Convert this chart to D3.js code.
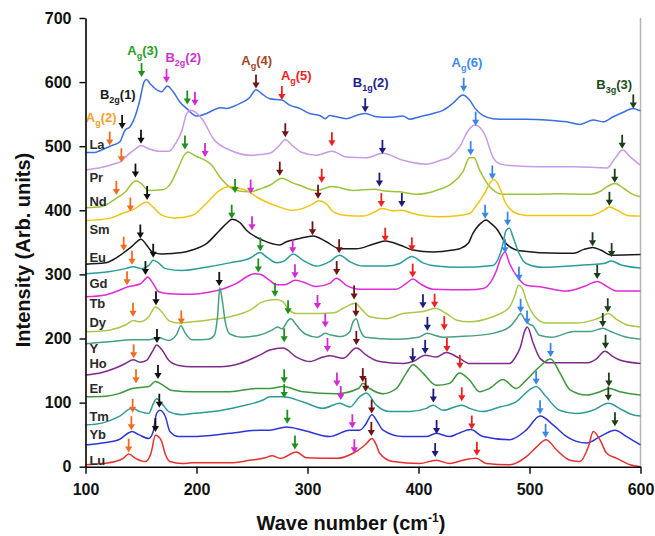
<!DOCTYPE html>
<html><head><meta charset="utf-8">
<script src="https://cdn.jsdelivr.net/npm/d3@7"></script>
<style>body{margin:0;background:#fff;} svg{display:block;font-family:"Liberation Sans",Arial,sans-serif;}</style>
</head><body><svg id="chart" width="655" height="536"></svg>
<script>
// ---------- data ----------
const xTicks = [100, 200, 300, 400, 500, 600];
const yTicks = [0, 100, 200, 300, 400, 500, 600, 700];
const xTitle = "Wave number (cm";
const yTitle = "Intensity (Arb. units)";

const elementNames = ["La","Pr","Nd","Sm","Eu","Gd","Tb","Dy","Y","Ho","Er","Tm","Yb","Lu"];
const elementLabelY = [503, 452, 414, 370, 326, 286, 255, 225, 185, 161, 122, 78, 50, 10];
const elementLabelX = 103.5;

const curveColors = ["#3b6ee0","#c89be6","#9cc43a","#f2c411","#1a1a1a","#2a9d9a","#e02ad8",
                     "#a9c84a","#45a082","#7e2a8a","#3d963d","#2e9a96","#2b35d8","#e8302f"];

const spec1 = [[100,490],[108,490],[113,493],[122,500],[131,507],[135.6,525],[140,530],[144.6,546],[149,572],[152.7,600],[155,604],[158,598],[162.6,590],[168.6,585],[173.7,594],[179,585],[185,569],[191,559],[200,547],[209,551],[215,556],[221,560],[227,559],[236,564],[242,569],[248,576],[253.6,588],[258.7,582],[266,574],[277,572],[284,564],[293,559],[302,551],[311,548],[316,543],[320,548],[326,546],[335,543],[344,548],[352,551],[362,546],[374,545],[386,547],[392,542],[401,546],[413,551],[422,556],[431,567],[440,580],[446,572],[451,559],[458,548],[467,543],[479,542],[497,542],[515,541],[533.5,538],[545.5,534],[557.5,541],[566.5,538],[575.5,546],[584.5,553],[593,559],[600,555]];
const spec2 = [[100,463],[115,467],[127,473],[132,476],[136,483],[145,496],[150,501],[157,496],[166,492],[175,492],[181,504],[187,525],[191,550],[195,556],[199,553],[206,540],[215,512],[230,494],[248,486],[266,489],[274,500],[280,510],[287,500],[294,491],[308,486],[322,492],[335,483],[353,482],[368,489],[386,478],[407,472],[420,478],[428,483],[437,499],[445,525],[451,533],[456,528],[460,517],[467,483],[474,472],[482,470],[512,468],[540,468],[570,466],[577,481],[584,494],[591,483],[600,470]];
const spec3 = [[100,404],[115,406],[127,418],[136,429],[142,442],[145,446],[150,442],[157,431],[169,432],[176,440],[184,468],[189,486],[192,491],[200,484],[208,478],[214,470],[221,452],[236,431],[248,429],[260,435],[266,439],[277,450],[285,444],[293,439],[308,431],[322,437],[341,431],[360,433],[370,430],[383,429],[398,425],[416,431],[430,442],[440,460],[446,482],[450,482],[455,463],[464,437],[476,425],[500,425],[527,426],[555,425],[563,429],[570,437],[577,442],[585,434],[594,424],[600,421]];
const spec4 = [[100,384],[121,387],[133,395],[145,403],[151,410],[155,413],[161,405],[169,392],[180,388],[196,392],[209,411],[220,430],[230,437],[237,435],[245,431],[255,420],[263,413],[275,405],[286,400],[296,403],[305,410],[310,415],[317,410],[323,398],[335,392],[350,391],[360,397],[367,403],[377,399],[385,400],[395,395],[418,390],[437,392],[446,395],[452,407],[460,428],[465,444],[468,448],[473,436],[478,413],[486,397],[497,392],[531,392],[555,392],[567,400],[572,405],[579,400],[588,392],[600,391]];
const spec5 = [[100,316],[118,318],[127,325],[136,336],[142,344],[150,355],[155,346],[161,334],[169,332],[187,334],[196,338],[209,348],[221,369],[228,381],[232,386],[239,381],[245,369],[260,353],[275,346],[281,351],[293,356],[305,360],[317,351],[329,340],[344,340],[359,347],[370,352],[383,346],[395,338],[413,335],[431,338],[437,340],[445,349],[449,364],[455,378],[461,385],[465,380],[470,372],[479,348],[491,337],[527,333],[540,333],[549,339],[557,342],[564,338],[574,330],[600,331]];
const spec6 = [[100,301],[121,304],[136,309],[143,312],[151,309],[157,314],[161,322],[165,319],[172,309],[187,306],[211,312],[230,318],[249,326],[257,334],[264,326],[272,318],[280,322],[287,332],[296,322],[308,313],[320,320],[329,330],[338,320],[350,313],[371,313],[383,317],[394,328],[404,318],[416,313],[437,311],[467,314],[475,340],[479,369],[482,372],[485,359],[490,335],[497,317],[512,311],[552,315],[567,317],[574,321],[582,315],[600,310]];
const spec7 = [[100,265],[118,268],[130,275],[139,281],[149,285],[154,293],[156,296],[160,288],[166,273],[175,270],[196,269],[211,272],[225,278],[236,286],[245,296],[252,301],[258,300],[265,292],[272,284],[280,284],[289,291],[296,288],[308,281],[320,286],[326,294],[335,283],[347,277],[380,277],[389,286],[395,293],[401,286],[413,277],[446,276],[458,278],[465,288],[470,305],[474,325],[478,335],[482,317],[490,294],[497,283],[512,280],[533,274],[549,281],[561,289],[570,281],[579,274],[600,274]];
const spec8 = [[100,210.5],[121,213],[136,221],[143,228],[149,226],[157,234],[163,249],[169,241],[175,228],[184,224],[196,226],[211,229],[230,234],[249,245],[258,256],[266,260],[272,261],[278,257],[283,245],[290,239],[300,239],[311,239],[324,240],[333,248],[343,255],[349,245],[356,234],[371,231],[386,239],[404,242],[410,245],[415,247],[425,239],[434,229],[446,226],[467,234],[475,240],[482,249],[487,268],[490,283],[494,276],[497,260],[505,234],[515,224],[542,224],[558,229],[565,234],[571,239],[579,229],[588,221],[600,218]];
const spec9 = [[100,192],[121,195],[142,198],[157,198],[166,201],[175,197],[182,206],[186,220],[190,208],[196,198],[211,199],[216,205],[219,235],[221,279],[223,262],[226,225],[230,207],[241,202],[256,205],[268,213],[273,218],[277,215],[283,229],[285,231],[290,221],[298,207],[309,202],[316,208],[320,206],[330,203],[338,210],[341,226],[344,231],[347,215],[352,202],[380,199],[400,202],[408,208],[413,206],[422,202],[437,203],[467,208],[482,218],[488,230],[492,239],[496,229],[500,222],[503,220],[509,205],[520,202],[540,211],[555,211],[566,216],[573,211],[585,203],[600,199]];
const spec10 = [[100,143],[115,147],[127,154],[136,161],[143,167],[149,163],[155,166],[161,182],[164,190],[169,182],[175,166],[184,158],[196,156],[221,156],[239,161],[257,174],[266,182],[278,185],[290,171],[302,164],[314,171],[320,173],[332,169],[344,185],[353,174],[365,164],[386,161],[395,164],[406,174],[416,171],[425,178],[437,169],[446,161],[482,161],[487,170],[491.5,185],[496,213],[498,218],[503.5,192],[509.5,169],[517,162],[551.5,162],[560,168],[568,180],[575,172],[582,166],[600,161]];
const spec11 = [[100,109],[118,110],[130,114],[142,122],[157,125],[163,133],[169,128],[178,119],[196,117],[230,117],[254,122],[266,122],[278,125],[296,117],[326,114],[346,122],[350,130],[356,122],[368,114],[380,122],[389,146],[395,159],[404,146],[416,127],[428,130],[437,146],[446,135],[455,117],[464,122],[476,136],[488,122],[497,135],[509,156],[519,168],[527.5,146],[536.5,120],[551.5,112],[563.5,117],[572,122],[581.5,117],[600,112]];
const spec12 = [[100,65],[115,68],[130,78],[142,91],[149,86],[157,83],[161,98],[164,106],[169,98],[175,86],[187,81],[196,83],[215,86],[239,94],[260,104],[266,109],[278,109],[296,101],[314,91],[329,99],[338,93],[347,109],[353,115],[362,96],[374,86],[392,86],[407,91],[413,96],[422,88],[439,96],[446,91],[458,86],[473,93],[488,101],[500,120],[506,125],[515,109],[527,88],[542,83],[557,88],[571,99],[584,88],[593,81],[600,79]];
const spec13 = [[100,34],[115,37],[130,42],[139,53],[142,55],[148,50],[157,44],[161,55],[164,83],[167,88],[172,78],[176,55],[184,47],[196,47],[230,52],[257,57],[266,57],[281,62],[296,57],[320,47],[338,57],[347,57],[352,65],[358,81],[363,70],[368,57],[386,47],[407,47],[416,52],[428,47],[436,52],[447,58],[458,47],[482,42],[497,57],[509.5,79],[521.5,65],[533.5,47],[551.5,37],[563.5,47],[577,57],[587.5,47],[600,34]];
const spec14 = [[100,3],[115,5],[127,8],[134,13],[139,20],[145,13],[154,8],[159,21],[163,49],[168,42],[172,19],[176,8],[187,5],[196,6],[230,6],[248,10],[262,14],[268,17],[276,13],[290,23],[299,14],[326,13],[341,21],[349,30],[353,36],[358,44],[362,34],[365,21],[377,8],[401,5],[416,10],[428,5],[440,10],[452,13],[461,5],[482,3],[497.5,16],[506.5,31],[515,42],[524.5,26],[536.5,10],[545.5,8],[553,31],[557.5,55],[563.5,42],[569.5,21],[578.6,13],[590.6,3],[600,0]];
const spectra = [spec1,spec2,spec3,spec4,spec5,spec6,spec7,spec8,spec9,spec10,spec11,spec12,spec13,spec14];

// mode labels
const modeMain  = ["A","B","A","B","A","A","B","A","B"];
const modeSub   = ["g","2g","g","2g","g","g","1g","g","3g"];
const modeIdx   = ["(2)","(1)","(3)","(2)","(4)","(5)","(2)","(6)","(3)"];
const modeLabelX = [114.2, 129.1, 151.5, 188.1, 254.2, 289.9, 357, 443.7, 576.3];
const modeLabelY = [538, 574, 642, 631, 626, 603, 592, 623, 590];
const modeLabelColors = ["#f5a02c","#1a1a1a","#22a022","#cc33cc","#a0472a","#ee2222","#22228a","#3d8ced","#1d4d1d"];
const modeArrowColors = ["#f26c1f","#111111","#1f8f1f","#d42ad4","#6e1414","#ee2020","#1c1c80","#3a86ea","#1a3d1a"];

// arrow tips [wave number, intensity] per mode
const arrowsAg2  = [[121.8,501],[132.3,475],[127.8,424],[140.4,398],[134.4,337],[141.9,315],[137.4,283],[142.8,234],[186.3,222],[143.4,169],[145.5,130],[142.5,84],[141.3,57],[138.9,22]];
const arrowsB2g1 = [[133,527],[150,504],[145,451],[155.5,416],[149.4,356],[161,326],[154,299],[163.5,252],[220.5,282],[164.4,193],[165.3,137],[166.5,92],[163,54]];
const arrowsAg3  = [[150.5,608],[191.7,565],[189.6,495],[234.7,427],[231.7,387],[257.5,336],[255.7,303],[270.7,265],[282.5,238],[279,194],[279,130],[279,107],[281.8,67],[288.7,27]];
const arrowsB2g2 = [[173,599],[198.6,563],[207.7,483],[248.8,426],[250,369],[286.7,333],[288.7,294],[309,246],[316,217],[318,179],[326.5,125],[330,104],[340.4,60],[342.2,21]];
const arrowsAg4  = [[253.6,590],[280,514],[275,454],[309.5,418],[304.5,361],[328.5,333],[326.3,299],[342,261],[343.6,234],[344,190],[349.8,132],[352.4,117],[357.8,83],[357.5,48]];
const arrowsAg5  = [[276.9,572],[322,500],[312.8,443],[366.5,405],[370,351],[394,336],[394.8,295],[414.5,248],[423.2,213],[425.6,179],[437.3,153],[439,102],[448,58],[452.6,17]];
const arrowsB1g2 = [[352,553],[367.5,488],[364.8,437],[385,405],[404,247],[408,212],[406,176],[394.8,163],[413.4,100],[416.3,51],[415,15]];
const arrowsAg6  = [[440.7,585],[451.5,532],[447,486],[466.5,448],[460,387],[480.3,376],[478,333],[490.5,290],[492,240],[497.8,222],[519,171],[506,128],[509.5,82],[514.5,45]];
const arrowsB3g3 = [[593.5,559],[583.5,496],[576.8,443],[572,407],[556.8,344],[574,327],[561,293],[570.5,241],[566,218],[568.5,184],[571.5,125],[571,103],[577,63]];
const arrowSets = [arrowsAg2,arrowsB2g1,arrowsAg3,arrowsB2g2,arrowsAg4,arrowsAg5,arrowsB1g2,arrowsAg6,arrowsB3g3];

// ---------- drawing ----------
const svg = d3.select("#chart");
const L = 85.5, R = 640.5, T = 18, B = 466.7;
const x = d3.scaleLinear().domain([100, 600]).range([L, R]);
const y = d3.scaleLinear().domain([0, 700]).range([B, T]);

// right border
svg.append("line").attr("x1", R).attr("x2", R).attr("y1", T).attr("y2", B)
   .attr("stroke", "#b4b4b4").attr("stroke-width", 1.5);

// spectra
const line = d3.line().x(d => x(d[0])).y(d => y(d[1])).curve(d3.curveMonotoneX);
const gS = svg.append("g");
spectra.forEach((s, i) => {
  gS.append("path").datum(s).attr("d", line).attr("fill", "none")
    .attr("stroke", curveColors[i]).attr("stroke-width", 1.5).attr("stroke-linejoin", "round");
});

// arrows
const gA = svg.append("g");
arrowSets.forEach((set, k) => {
  const c = modeArrowColors[k];
  set.forEach(p => {
    const px = x(p[0]), py = y(p[1]);
    const len = 14, hh = 6, hw = 3.6;
    gA.append("line").attr("x1", px).attr("x2", px).attr("y1", py - len).attr("y2", py - hh + 0.5)
      .attr("stroke", c).attr("stroke-width", 1.8);
    gA.append("path").attr("d", `M${px - hw},${py - hh}L${px + hw},${py - hh}L${px},${py}Z`).attr("fill", c);
  });
});

// element labels
const gL = svg.append("g");
elementNames.forEach((n, i) => {
  gL.append("text").attr("x", x(elementLabelX)).attr("y", y(elementLabelY[i])).attr("dy", "0.36em")
    .attr("font-size", 13).attr("font-weight", "bold").attr("fill", "#2a2a2a").text(n);
});

// mode labels
modeMain.forEach((m, i) => {
  const t = svg.append("text").attr("x", x(modeLabelX[i])).attr("y", y(modeLabelY[i]))
    .attr("text-anchor", "middle").attr("font-size", 13).attr("font-weight", "bold")
    .attr("fill", modeLabelColors[i]);
  t.append("tspan").text(m);
  t.append("tspan").attr("font-size", 9).attr("dy", 4).text(modeSub[i]);
  t.append("tspan").attr("dy", -4).text(modeIdx[i]);
});

// axes
const ax = svg.append("g").attr("transform", `translate(0,${B})`)
  .call(d3.axisBottom(x).tickValues(xTicks).tickSize(7).tickSizeOuter(0).tickPadding(10).tickFormat(d3.format("d")));
const ay = svg.append("g").attr("transform", `translate(${L},0)`)
  .call(d3.axisLeft(y).tickValues(yTicks).tickSize(6).tickSizeOuter(0).tickPadding(8).tickFormat(d3.format("d")));
[ax, ay].forEach(g => {
  g.select(".domain").attr("stroke", "#000").attr("stroke-width", 1.6);
  g.selectAll(".tick line").attr("stroke", "#000").attr("stroke-width", 1.4);
  g.selectAll(".tick text").attr("font-size", 16).attr("font-weight", "bold").attr("fill", "#111")
    .attr("font-family", '"Liberation Sans",Arial,sans-serif');
});

// axis titles
const xt = svg.append("text").attr("x", 351).attr("y", 530).attr("text-anchor", "middle")
  .attr("font-size", 20).attr("font-weight", "bold").attr("fill", "#111");
xt.append("tspan").text(xTitle);
xt.append("tspan").attr("font-size", 12).attr("dy", -8).text("-1");
xt.append("tspan").attr("dy", 8).text(")");

svg.append("text").attr("transform", "translate(30,250) rotate(-90)").attr("text-anchor", "middle")
  .attr("font-size", 20).attr("font-weight", "bold").attr("fill", "#111").text(yTitle);
</script>
</body></html>
